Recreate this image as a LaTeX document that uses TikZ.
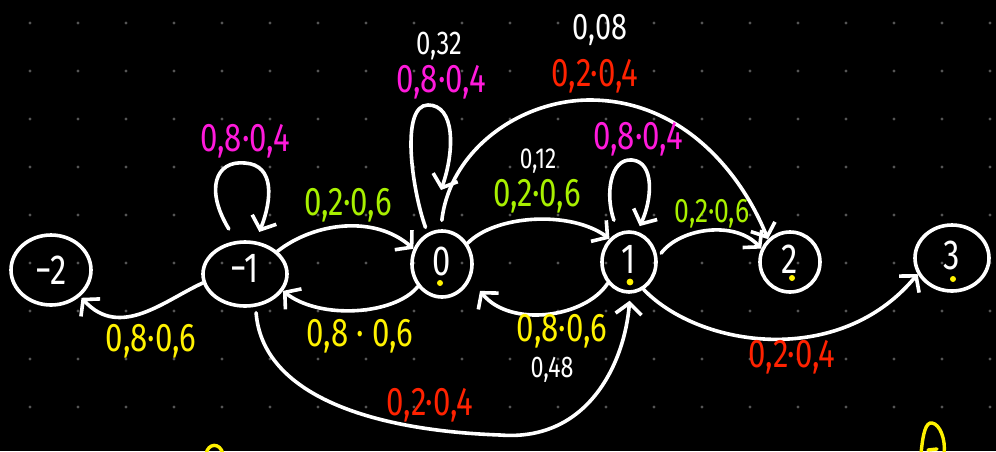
\documentclass[tikz,border=0pt]{standalone}
\usepackage{fontspec}
\setmainfont{Fira Sans}
\newfontfamily\hand[FakeStretch=0.78]{Fira Sans}
\usetikzlibrary{arrows.meta,shapes.geometric}
\definecolor{dotc}{HTML}{555555}
\definecolor{hmag}{HTML}{FF1ADB}
\definecolor{hred}{HTML}{FF2200}
\definecolor{hgreen}{HTML}{A8F000}
\definecolor{hyellow}{HTML}{FFF200}
\tikzset{
  st/.style={ellipse, draw=white, line width=3.6pt, inner sep=0pt, text=white,
    text depth=6pt, font=\hand\fontsize{42}{42}\selectfont},
  edge/.style={draw=white, line width=3.6pt, line cap=round,
    -{Straight Barb[length=11pt,width=26pt]}},
  lbl/.style={inner sep=0pt, font=\hand\fontsize{40}{40}\selectfont},
  lblsm/.style={inner sep=0pt, font=\hand\fontsize{34}{34}\selectfont},
  wnum/.style={inner sep=0pt, text=white, font=\hand\fontsize{33}{33}\selectfont},
  ystroke/.style={draw=hyellow, line width=3.4pt, line cap=round},
}
\begin{document}
\begin{tikzpicture}[x=1pt,y=-1pt]
\fill[black] (0,0) rectangle (996,451);
\useasboundingbox (0,0) rectangle (996,451);
\clip (0,0) rectangle (996,451);
% dot grid
\foreach \i in {0,...,20}{
  \foreach \j in {0,...,8}{
    \fill[dotc] (30+48*\i, 23+48*\j) circle (1.6pt);
  }
}
% states
\node[st, minimum width=80pt, minimum height=70pt, text depth=0pt] (n2) at (51,270) {−2};
\node[st, minimum width=84pt, minimum height=64pt, text depth=12pt] (n1) at (245,274) {−1};
\node[st, minimum width=60pt, minimum height=66pt] (z) at (442,264) {0};
\node[st, minimum width=54pt, minimum height=60pt] (o) at (629,262) {1};
\node[st, minimum width=60pt, minimum height=60pt] (t) at (790,262) {2};
\node[st, minimum width=74pt, minimum height=66pt] (th) at (952,258) {3};
% yellow dots
\fill[hyellow] (440,283) circle (3pt);
\fill[hyellow] (630,282) circle (3.4pt);
\fill[hyellow] (792,278) circle (3pt);
\fill[hyellow] (953,279) circle (3pt);
% free ends
\coordinate (zl) at (441,190);
% connectors
\draw[edge, shorten >=2pt] (n1.192) .. controls (165,300) and (120,340) .. (n2.-42);
\draw[edge, shorten <=14pt, shorten >=10pt] (n1.105) .. controls (205,190) and (215,160) .. (245,163) .. controls (275,165) and (272,200) .. (n1.72);
\draw[edge] (n1.35) .. controls (315,222) and (375,215) .. (z.152);
\draw[edge] (z.-137) .. controls (395,315) and (320,320) .. (n1.-24);
\draw[edge, shorten <=6pt] (z.115) .. controls (412,190) and (400,105) .. (428,105) .. controls (455,105) and (455,150) .. (zl);
\draw[edge, shorten <=9pt] (z.92) .. controls (450,150) and (520,100) .. (590,100) .. controls (680,100) and (740,170) .. (t.134);
\draw[edge] (z.39) .. controls (495,215) and (570,210) .. (o.130);
\draw[edge, shorten >=15pt] (o.-135) .. controls (585,318) and (510,328) .. (z.-28);
\draw[edge, shorten <=13pt, shorten >=6pt] (o.110) .. controls (605,195) and (610,158) .. (632,160) .. controls (655,162) and (652,200) .. (o.75);
\draw[edge, shorten <=6pt] (o.8) .. controls (680,228) and (735,220) .. (t.155);
\draw[edge] (o.-62) .. controls (700,348) and (840,368) .. (th.-155);
\draw[edge, shorten <=6pt, shorten >=7pt] (n1.-72) .. controls (262,390) and (360,430) .. (500,435) .. controls (590,442) and (625,360) .. (o.-88);
% labels
\node[lbl, text=hyellow] (l1) at (151,341) {0,8·0,6};
\node[lbl, text=hmag] (l2) at (245,141) {0,8·0,4};
\node[lbl, text=hgreen] (l3) at (348,205) {0,2·0,6};
\node[lbl, text=hyellow] (l4) at (360,336) {0,8 · 0,6};
\node[wnum] (w1) at (439,46) {0,32};
\node[lbl, text=hmag] (l5) at (441,82) {0,8·0,4};
\node[wnum, font=\hand\fontsize{37}{37}\selectfont] (w2) at (600,30) {0,08};
\node[lbl, text=hred] (l6) at (595,76) {0,2·0,4};
\node[wnum, font=\hand\fontsize{29}{29}\selectfont] (w3) at (538,161) {0,12};
\node[lbl, text=hgreen] (l7) at (537,196) {0,2·0,6};
\node[lbl, text=hmag] (l8) at (638,139) {0,8·0,4};
\node[lblsm, text=hgreen] (l9) at (712,214) {0,2·0,6};
\node[lbl, text=hyellow] (l10) at (562,331) {0,8·0,6};
\node[wnum, font=\hand\fontsize{30}{30}\selectfont] (w4) at (552,370) {0,48};
\node[lbl, text=hred] (l11) at (430,405) {0,2·0,4};
\node[lbl, text=hred] (l12) at (792,357) {0,2·0,4};
% partial yellow strokes at the bottom edge
\draw[ystroke] (206,454) .. controls (208,443) and (220,442) .. (223,454);
\draw[ystroke] (921,454) .. controls (923,432) and (926,422) .. (932,423) .. controls (940,424) and (946,440) .. (944,454);
\draw[ystroke] (928,450) -- (937,449);
\end{tikzpicture}
\end{document}
